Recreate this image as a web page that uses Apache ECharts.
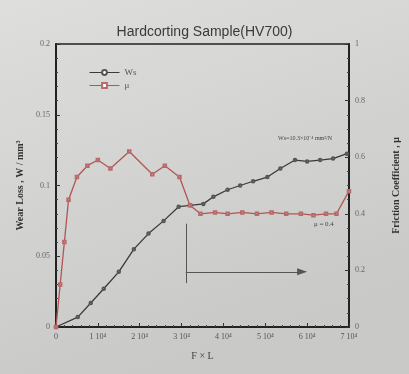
<!DOCTYPE html>
<html>
<head>
<meta charset="utf-8">
<script src="https://cdn.jsdelivr.net/npm/echarts@6/dist/echarts.min.js"></script>
<style>
  html, body { margin: 0; padding: 0; }
  #chart { width: 409px; height: 374px; }
</style>
</head>
<body>
<div id="chart"></div>
<script>
// x in units of 10^4 (F x L)
var xTicks = [0, 1, 2, 3, 4, 5, 6, 7];
var wsX = [0, 0.52, 0.83, 1.14, 1.5, 1.86, 2.21, 2.57, 2.93, 3.21, 3.52, 3.76, 4.1, 4.4, 4.71, 5.05, 5.36, 5.71, 6.0, 6.31, 6.62, 6.95];
var wsY = [0, 0.007, 0.017, 0.027, 0.039, 0.055, 0.066, 0.075, 0.085, 0.086, 0.087, 0.092, 0.097, 0.1, 0.103, 0.106, 0.112, 0.118, 0.117, 0.118, 0.119, 0.1225];
var muX = [0, 0.1, 0.2, 0.3, 0.5, 0.75, 1.0, 1.3, 1.75, 2.3, 2.6, 2.95, 3.2, 3.45, 3.8, 4.1, 4.45, 4.8, 5.15, 5.5, 5.85, 6.15, 6.45, 6.7, 7.0];
var muY = [0, 0.15, 0.3, 0.45, 0.53, 0.57, 0.59, 0.56, 0.62, 0.54, 0.57, 0.53, 0.43, 0.4, 0.405, 0.4, 0.405, 0.4, 0.405, 0.4, 0.4, 0.395, 0.4, 0.4, 0.48];

function pairs(xs, ys) {
  return xs.map(function (x, i) { return [x, ys[i]]; });
}

var chart = echarts.init(document.getElementById('chart'));
var serif = 'Liberation Serif';
var option = {
  backgroundColor: {
    type: 'linear', x: 0, y: 0, x2: 0.3, y2: 1,
    colorStops: [{ offset: 0, color: '#dededc' }, { offset: 1, color: '#c9c9c7' }]
  },
  animation: false,
  title: {
    text: 'Hardcorting Sample(HV700)',
    left: 'center',
    top: 20,
    textStyle: { fontFamily: 'Liberation Sans', fontSize: 14, fontWeight: 'normal', color: '#3a3a3a' }
  },
  legend: {
    orient: 'vertical',
    left: 84,
    top: 63,
    itemWidth: 30,
    itemHeight: 6,
    itemGap: 4,
    lineStyle: { width: 1 },
    textStyle: { fontFamily: serif, fontSize: 9, color: '#555' },
    data: ['Ws', 'μ']
  },
  grid: {
    left: 56, right: 59, top: 44, bottom: 47,
    show: true, borderColor: '#222', borderWidth: 1.5, backgroundColor: 'transparent'
  },
  xAxis: {
    type: 'value',
    min: 0, max: 7, interval: 1,
    name: 'F × L',
    nameLocation: 'middle',
    nameGap: 24,
    nameTextStyle: { fontFamily: serif, fontSize: 10, color: '#444' },
    axisLine: { lineStyle: { color: '#222', width: 2 } },
    axisTick: { inside: true, length: 4, lineStyle: { color: '#333' } },
    minorTick: { show: true, splitNumber: 5, length: 2, lineStyle: { color: '#444' } },
    splitLine: { show: false },
    axisLabel: {
      fontFamily: serif, fontSize: 8, color: '#555', margin: 6,
      formatter: function (v) { return v === 0 ? '0' : v + ' 10⁴'; }
    }
  },
  yAxis: [{
    type: 'value',
    min: 0, max: 0.2, interval: 0.05,
    name: 'Wear Loss , W / mm³',
    nameLocation: 'middle',
    nameGap: 24,
    nameTextStyle: { fontFamily: serif, fontSize: 10, fontWeight: 'bold', color: '#333' },
    axisLine: { show: true, lineStyle: { color: '#222', width: 2 } },
    axisTick: { inside: true, length: 4, lineStyle: { color: '#333' } },
    minorTick: { show: true, splitNumber: 5, length: 2, lineStyle: { color: '#444' } },
    splitLine: { show: false },
    axisLabel: { fontFamily: serif, fontSize: 8, color: '#666', margin: 6 }
  }, {
    type: 'value',
    position: 'right',
    min: 0, max: 1, interval: 0.2,
    name: 'Friction Coefficient , μ',
    nameLocation: 'middle',
    nameGap: 42,
    nameRotate: 90,
    nameTextStyle: { fontFamily: serif, fontSize: 10, fontWeight: 'bold', color: '#333' },
    axisLine: { show: true, lineStyle: { color: '#222', width: 2 } },
    axisTick: { inside: true, length: 4, lineStyle: { color: '#333' } },
    minorTick: { show: true, splitNumber: 4, length: 2, lineStyle: { color: '#444' } },
    splitLine: { show: false },
    axisLabel: { fontFamily: serif, fontSize: 8, color: '#666', margin: 6 }
  }],
  series: [{
    name: 'Ws',
    type: 'line',
    yAxisIndex: 0,
    data: pairs(wsX, wsY),
    symbol: 'emptyCircle',
    symbolSize: 2.5,
    lineStyle: { color: '#3a3a3a', width: 1.3 },
    itemStyle: { color: '#555', borderWidth: 0.8 },
    markLine: {
      silent: true,
      symbol: ['none', 'none'],
      label: { show: false },
      lineStyle: { color: '#555', width: 1, type: 'solid' },
      data: [
        [{ coord: [3.1, 0.073] }, { coord: [3.1, 0.031] }],
        [{ coord: [3.1, 0.039], symbol: 'none' }, { coord: [5.88, 0.039], symbol: 'triangle', symbolSize: [7, 10] }]
      ]
    },
    markPoint: {
      silent: true,
      symbol: 'rect',
      symbolSize: 1,
      itemStyle: { color: 'transparent' },
      label: { show: true, fontFamily: serif, fontSize: 6, color: '#444' },
      data: [{ coord: [5.95, 0.133], label: { formatter: 'Ws=10.3×10⁻⁴ mm²/N' } }]
    }
  }, {
    name: 'μ',
    type: 'line',
    yAxisIndex: 1,
    data: pairs(muX, muY),
    symbol: 'emptyRect',
    symbolSize: 2.5,
    lineStyle: { color: '#b25555', width: 1.3 },
    itemStyle: { color: '#b86a6a', borderWidth: 0.8 },
    markPoint: {
      silent: true,
      symbol: 'rect',
      symbolSize: 1,
      itemStyle: { color: 'transparent' },
      label: { show: true, fontFamily: serif, fontSize: 7, color: '#444' },
      data: [{ coord: [6.4, 0.365], label: { formatter: 'μ = 0.4' } }]
    }
  }]
};
chart.setOption(option);
</script>
</body>
</html>
